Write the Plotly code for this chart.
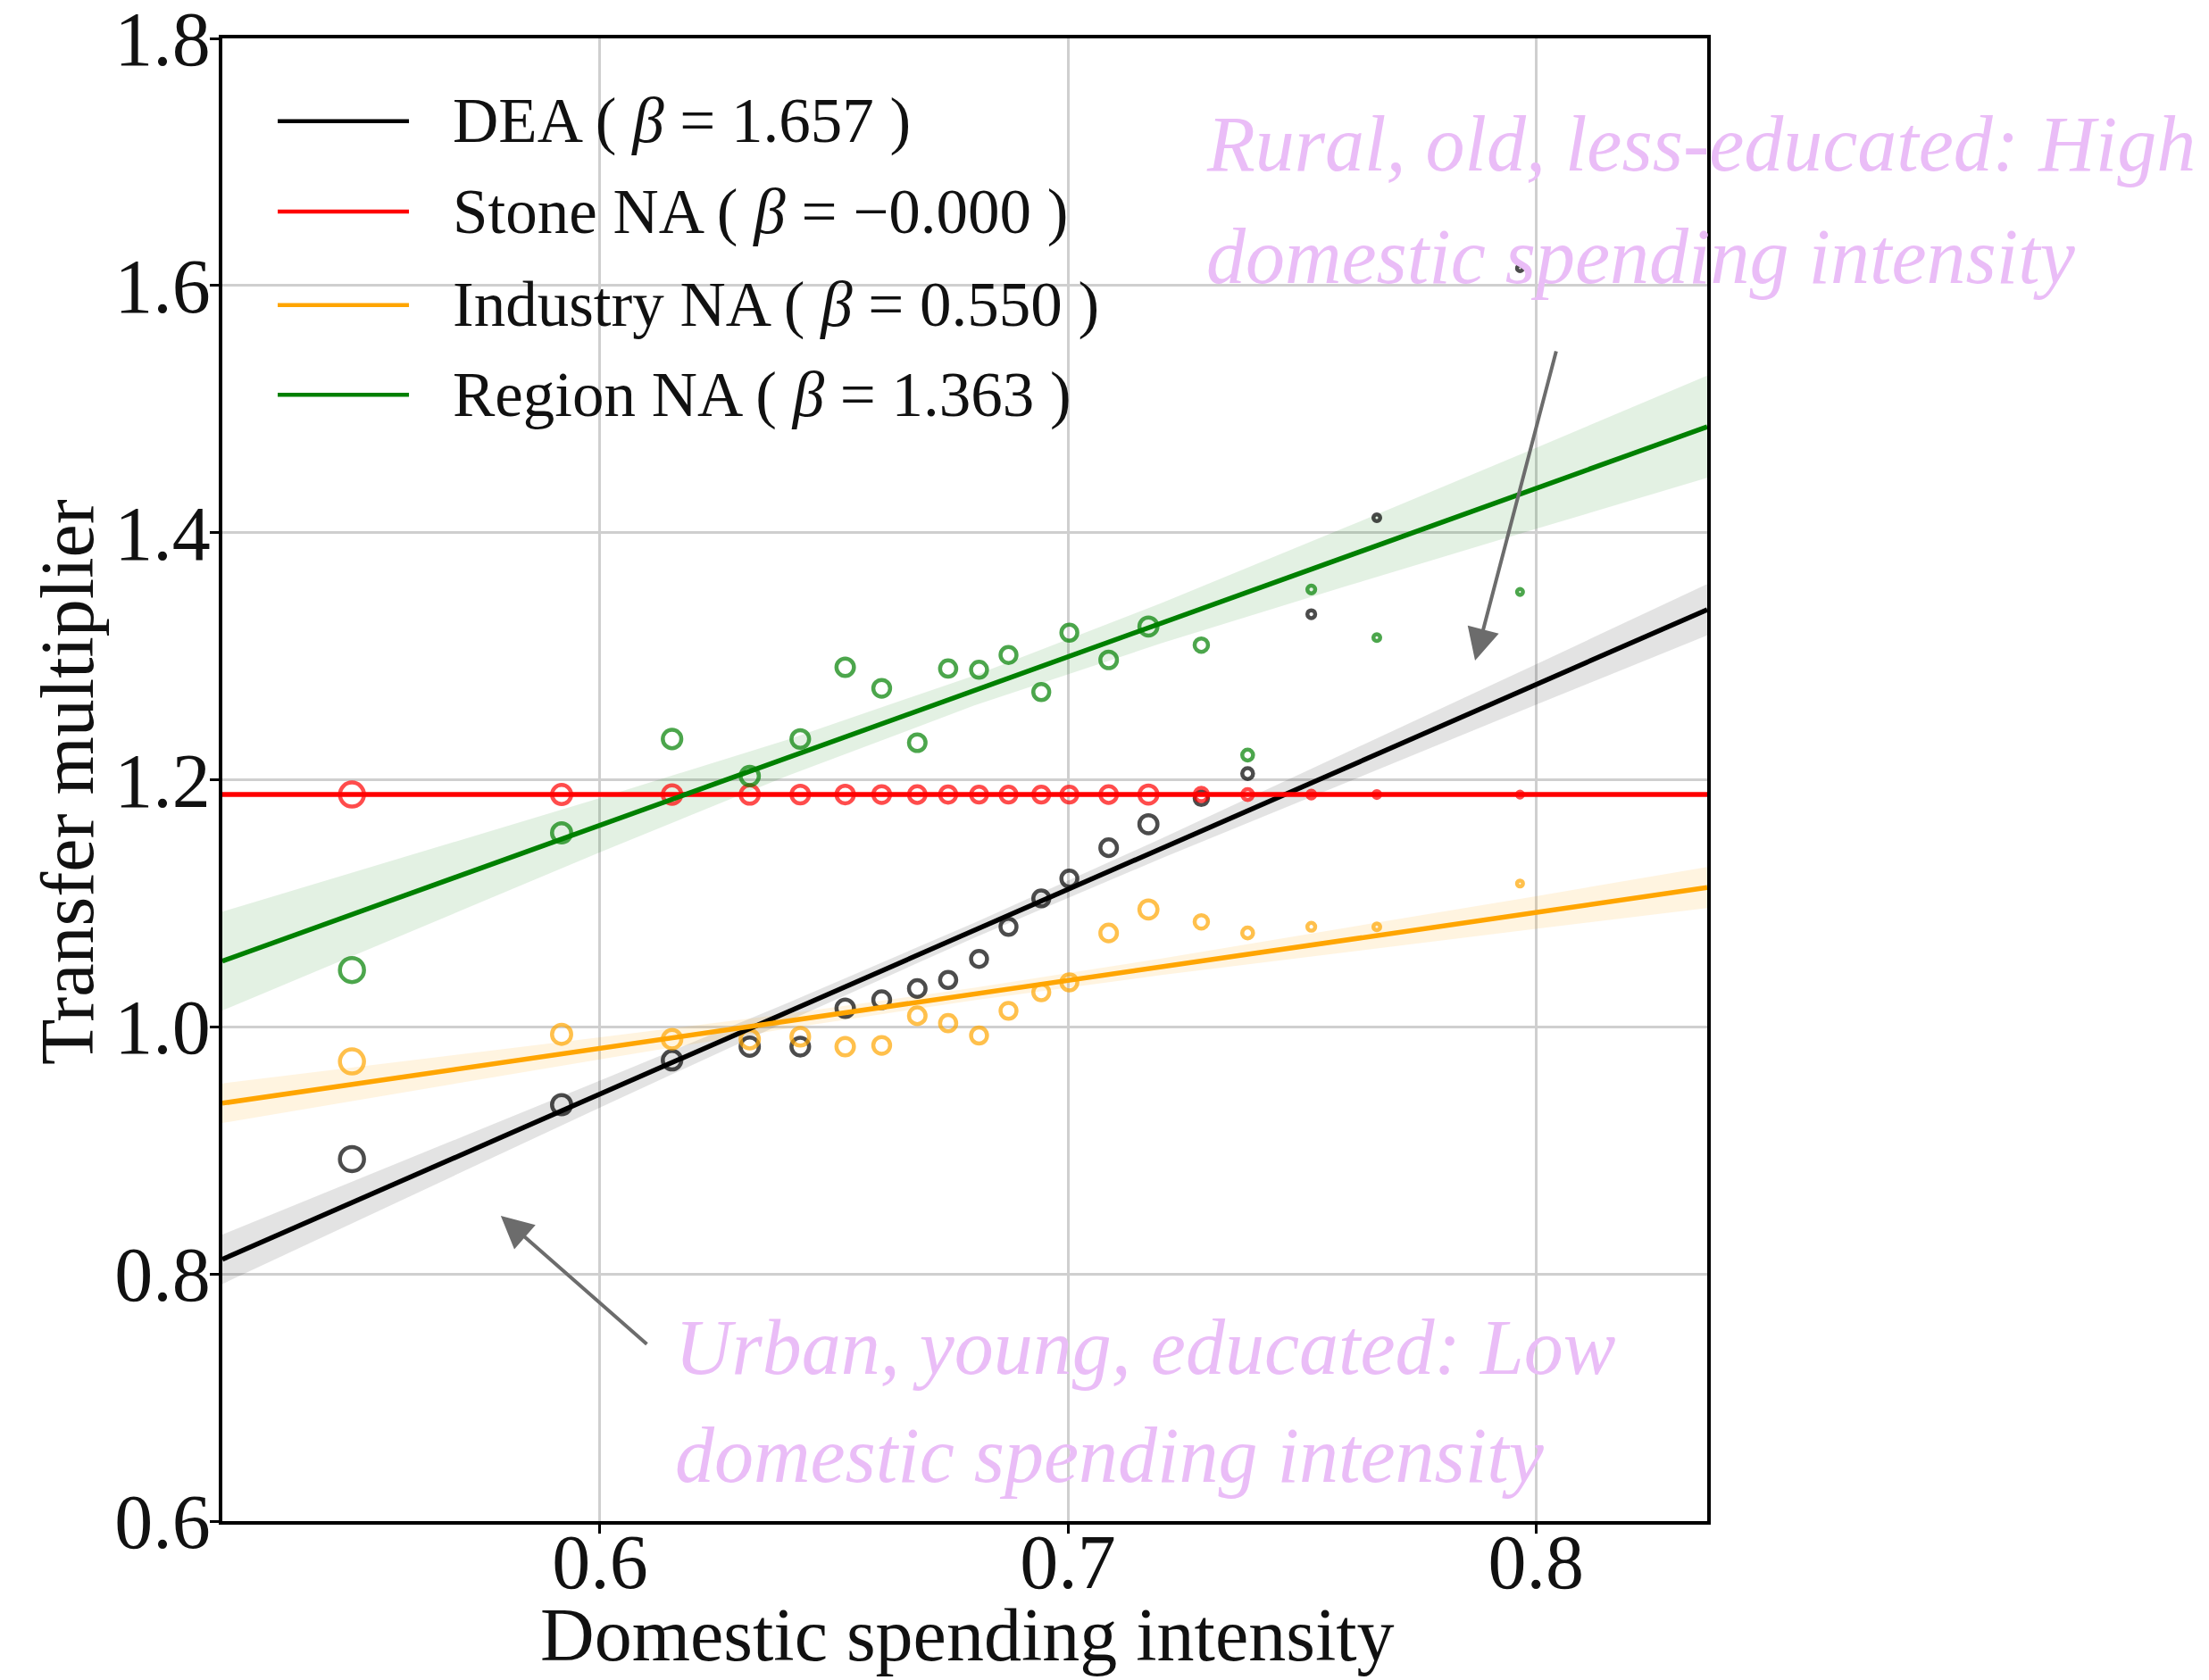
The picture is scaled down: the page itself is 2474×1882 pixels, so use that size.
import plotly.graph_objects as go

# Domestic spending intensity of each group (shared by all four series)
spending_intensity = [0.547, 0.5918, 0.6154, 0.632, 0.6428, 0.6524, 0.6602, 0.6678, 0.6744, 0.681,
                      0.6873, 0.6943, 0.7003, 0.7087, 0.7172, 0.7285, 0.7384, 0.752, 0.766, 0.7966]
# Relative weight of each group (scales the marker size)
group_weight = [1.0, 0.77, 0.74, 0.73, 0.70, 0.69, 0.66, 0.65, 0.63, 0.62,
                0.62, 0.62, 0.62, 0.65, 0.72, 0.50, 0.38, 0.24, 0.19, 0.15]

# Transfer multipliers per model
dea_multiplier = [0.893, 0.937, 0.973, 0.984, 0.984, 1.015, 1.022, 1.031, 1.038, 1.055,
                  1.081, 1.104, 1.120, 1.145, 1.164, 1.185, 1.205, 1.334, 1.412, 1.614]
stone_multiplier = [1.188, 1.188, 1.188, 1.188, 1.188, 1.188, 1.188, 1.188, 1.188, 1.188,
                    1.188, 1.188, 1.188, 1.188, 1.188, 1.188, 1.188, 1.188, 1.188, 1.188]
industry_multiplier = [0.972, 0.994, 0.990, 0.990, 0.992, 0.984, 0.985, 1.009, 1.003, 0.993,
                       1.013, 1.028, 1.036, 1.076, 1.095, 1.085, 1.076, 1.081, 1.081, 1.116]
region_multiplier = [1.046, 1.157, 1.233, 1.203, 1.233, 1.291, 1.274, 1.230, 1.290, 1.289,
                     1.301, 1.271, 1.319, 1.297, 1.324, 1.309, 1.220, 1.354, 1.315, 1.352]

# Fitted regressions: slope (beta) and intercept
series_names = ["DEA", "Stone NA", "Industry NA", "Region NA"]
slopes = [1.657, -0.0, 0.550, 1.363]
intercepts = [-0.0486, 1.188, 0.6526, 0.3454]

# Confidence band half-widths of the fits, sampled along x
band_x = [0.5193, 0.56, 0.60, 0.64, 0.68, 0.72, 0.76, 0.80, 0.8366]
dea_band = [0.020, 0.0153, 0.0109, 0.0074, 0.0060, 0.0081, 0.0120, 0.0164, 0.0207]
stone_band = [0.0, 0.0, 0.0, 0.0, 0.0, 0.0, 0.0, 0.0, 0.0]
industry_band = [0.016, 0.0123, 0.0089, 0.0060, 0.0050, 0.0067, 0.0097, 0.0132, 0.0166]
region_band = [0.040, 0.0306, 0.0219, 0.0147, 0.0121, 0.0163, 0.024, 0.0328, 0.0414]

x_ticks = [0.6, 0.7, 0.8]
y_ticks = [0.6, 0.8, 1.0, 1.2, 1.4, 1.6, 1.8]

X_RANGE = [0.5193, 0.8366]
Y_RANGE = [0.6, 1.8]

COLORS = ["#000000", "#ff0000", "#ffa500", "#008000"]
BAND_FILL = ["rgba(0,0,0,0.11)", "rgba(255,0,0,0.0)", "rgba(255,165,0,0.12)", "rgba(0,128,0,0.11)"]
FONT = "Liberation Serif"
NOTE_COLOR = "#eabdf7"

values = [dea_multiplier, stone_multiplier, industry_multiplier, region_multiplier]
bands = [dea_band, stone_band, industry_band, region_band]

fig = go.Figure()

# confidence bands
for slope, icpt, band, fill in zip(slopes, intercepts, bands, BAND_FILL):
    if max(band) == 0:
        continue
    upper = [icpt + slope * x + h for x, h in zip(band_x, band)]
    lower = [icpt + slope * x - h for x, h in zip(band_x, band)]
    fig.add_trace(go.Scatter(
        x=band_x + band_x[::-1], y=upper + lower[::-1],
        fill="toself", fillcolor=fill, line=dict(width=0),
        mode="lines", hoverinfo="skip", showlegend=False))

# group points
marker_sizes = [3 + 24 * w for w in group_weight]
for vals, color in zip(values, COLORS):
    fig.add_trace(go.Scatter(
        x=spending_intensity, y=vals, mode="markers",
        marker=dict(symbol="circle-open", size=marker_sizes, color=color,
                    line=dict(width=4.5, color=color)),
        showlegend=False))

# regression lines
for slope, icpt, color in zip(slopes, intercepts, COLORS):
    fig.add_trace(go.Scatter(
        x=X_RANGE, y=[icpt + slope * x for x in X_RANGE], mode="lines",
        line=dict(color=color, width=5.5), showlegend=False))

# legend drawn by hand (long line samples)
legend_rows = [0.9442, 0.8832, 0.8202, 0.7597]
for name, slope, color, yr in zip(series_names, slopes, COLORS, legend_rows):
    fig.add_shape(type="line", xref="paper", yref="paper",
                  x0=0.0373, x1=0.1257, y0=yr, y1=yr,
                  line=dict(color=color, width=4.5))
    beta = f"{slope:.3f}".replace("-", "\u2212")
    fig.add_annotation(xref="paper", yref="paper", x=0.1539, y=yr,
                       xanchor="left", yanchor="middle", showarrow=False,
                       text=f"{name} ( <i>β</i> = {beta} )",
                       font=dict(family=FONT, size=71, color="#111111"))

# axis titles
fig.add_annotation(xref="paper", yref="paper", x=0.5018, y=-0.0765,
                   xanchor="center", yanchor="middle", showarrow=False,
                   text="Domestic spending intensity",
                   font=dict(family=FONT, size=84, color="#111111"))
fig.add_annotation(xref="paper", yref="paper", x=-0.104, y=0.4985,
                   xanchor="center", yanchor="middle", showarrow=False, textangle=-90,
                   text="Transfer multiplier",
                   font=dict(family=FONT, size=84, color="#111111"))

# callouts
note_font = dict(family=FONT, size=88, color=NOTE_COLOR, style="italic")
for txt, x, y in [("Rural, old, less-educated: High", 0.7292, 1.7145),
                  ("domestic spending intensity", 0.7292, 1.6235),
                  ("Urban, young, educated: Low", 0.6157, 0.7406),
                  ("domestic spending intensity", 0.6157, 0.6531)]:
    fig.add_annotation(x=x, y=y, xref="x", yref="y", xanchor="left", yanchor="middle",
                       showarrow=False, text=txt, font=note_font)

for (hx, hy), (tx, ty) in [((0.787, 1.2964), (0.8044, 1.5478)),
                           ((0.5788, 0.847), (0.6103, 0.7422))]:
    fig.add_annotation(x=hx, y=hy, ax=tx, ay=ty, xref="x", yref="y", axref="x", ayref="y",
                       text="", showarrow=True, arrowhead=2, arrowsize=1.8,
                       arrowwidth=4, arrowcolor="#6c6c6c")

axis_common = dict(
    showgrid=True, gridcolor="#cfcfcf", gridwidth=2.5,
    showline=True, linecolor="black", linewidth=4, mirror=True,
    ticks="outside", ticklen=10, tickwidth=3, tickcolor="black",
    tickfont=dict(family=FONT, size=86, color="#111111"),
    zeroline=False, tickformat=".1f", automargin=False,
    ticklabeloverflow="allow",
)
fig.update_xaxes(range=X_RANGE, tickvals=x_ticks, ticklabelstandoff=-42, **axis_common)
fig.update_yaxes(range=Y_RANGE, tickvals=y_ticks, ticklabelstandoff=-18, **axis_common)

fig.update_layout(
    width=2474, height=1882,
    margin=dict(l=249, r=562, t=43, b=178),
    paper_bgcolor="white", plot_bgcolor="white",
    showlegend=False,
)

fig.write_html("out.html")
